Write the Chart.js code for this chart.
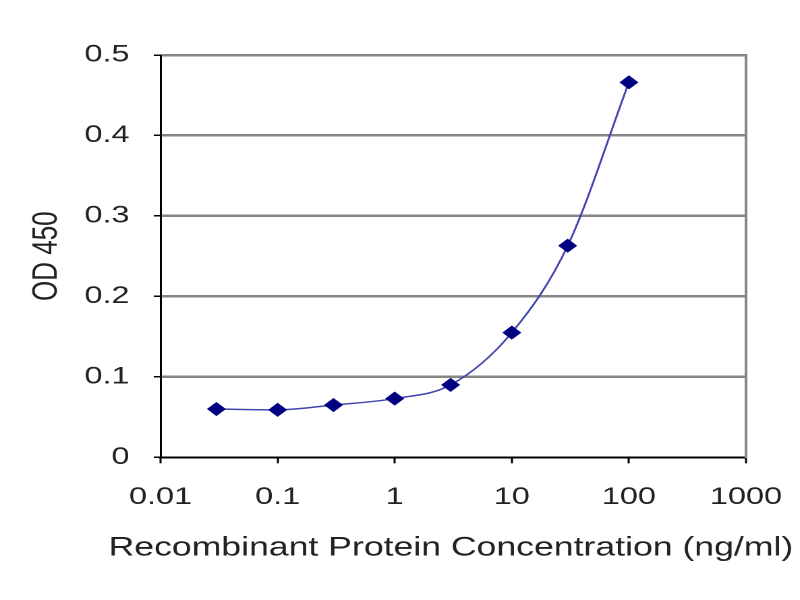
<!DOCTYPE html>
<html lang="en">
<head>
<meta charset="UTF-8">
<title>OD 450 vs Recombinant Protein Concentration</title>
<script src="https://cdn.jsdelivr.net/npm/chart.js@4"></script>
<style>
    body { margin: 0; background: #fff; overflow: hidden; }
    /* the reference is stretched sideways, so draw narrow and stretch */
    #wrap { width: 593px; height: 600px; transform: scaleX(1.349); transform-origin: 0 0; }
</style>
</head>
<body>
<div id="wrap"><canvas id="odChart" width="593" height="600"></canvas></div>
<script>
    // concentrations (ng/ml) and measured OD 450
    const concentrations = [0.03, 0.1, 0.3, 1, 3, 10, 30, 100];
    const odValues = [0.060, 0.059, 0.065, 0.073, 0.090, 0.155, 0.263, 0.466];

    const xTicks = [0.01, 0.1, 1, 10, 100, 1000];
    const xTickLabels = ['0.01', '0.1', '1', '10', '100', '1000'];
    const yTickLabels = ['0', '0.1', '0.2', '0.3', '0.4', '0.5'];

    const points = concentrations.map((c, i) => ({ x: c, y: odValues[i] }));
    const textFont = 'Arial, "Liberation Sans", sans-serif';

    new Chart(document.getElementById('odChart'), {
        type: 'scatter',
        data: {
            datasets: [{
                data: points,
                showLine: true,
                cubicInterpolationMode: 'monotone',
                borderColor: '#4444b0',
                borderWidth: 1.5,
                pointStyle: 'rectRot',
                pointRadius: 6,
                pointBackgroundColor: '#000080',
                pointBorderColor: '#000080'
            }]
        },
        options: {
            responsive: false,
            animation: false,
            devicePixelRatio: 2,
            layout: { padding: { top: 55, left: 0, right: 5, bottom: 0 } },
            plugins: {
                legend: { display: false },
                tooltip: { enabled: false },
                // x axis title is wider than the plot, so it goes in the chart title box
                title: {
                    display: true,
                    position: 'bottom',
                    align: 'end',
                    text: 'Recombinant Protein Concentration (ng/ml)',
                    color: '#222',
                    font: { family: textFont, size: 26.4, weight: 'normal', lineHeight: 1.2 },
                    padding: { top: 0, bottom: 36 }
                }
            },
            scales: {
                x: {
                    type: 'logarithmic',
                    min: 0.01,
                    max: 1000,
                    afterBuildTicks: s => { s.ticks = xTicks.map(v => ({ value: v })); },
                    afterFit: s => { s.height = 75; },
                    ticks: {
                        autoSkip: false,
                        maxRotation: 0,
                        padding: 8,
                        color: '#222',
                        font: { family: textFont, size: 24, lineHeight: 2.17 },
                        callback: (v, i) => xTickLabels[i]
                    },
                    grid: { drawOnChartArea: false, tickLength: 6, tickColor: '#000', tickWidth: 1.5 },
                    border: { color: '#000', width: 2 }
                },
                y: {
                    min: 0,
                    max: 0.5,
                    afterFit: s => { s.width = 119; },
                    ticks: {
                        stepSize: 0.1,
                        padding: 18,
                        color: '#222',
                        font: { family: textFont, size: 24 },
                        callback: (v, i) => yTickLabels[i]
                    },
                    grid: {
                        color: c => c.tick && c.tick.value === 0 ? 'rgba(0,0,0,0)' : '#858585',
                        lineWidth: 2.5,
                        tickLength: 5,
                        tickColor: '#000',
                        tickWidth: 1.5
                    },
                    border: { color: '#000', width: 1.5 },
                    title: {
                        display: true,
                        text: 'OD 450',
                        color: '#222',
                        font: { family: textFont, size: 26 },
                        padding: { top: 19, bottom: 0 }
                    }
                },
                y2: {
                    position: 'right',
                    min: 0,
                    max: 0.5,
                    afterFit: s => { s.width = 35; },
                    ticks: { display: false },
                    grid: { drawOnChartArea: false, drawTicks: false },
                    border: { color: '#858585', width: 2 }
                }
            }
        }
    });
</script>
</body>
</html>
